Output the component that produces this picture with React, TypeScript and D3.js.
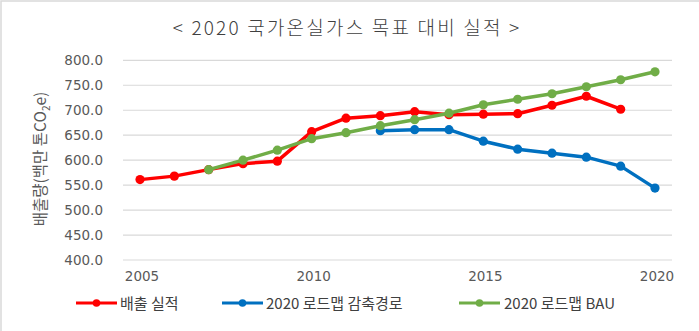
import React from "react";
import * as d3 from "d3";

const years = [2005, 2006, 2007, 2008, 2009, 2010, 2011, 2012, 2013, 2014, 2015, 2016, 2017, 2018, 2019, 2020];
const actual: (number | null)[] = [561, 568, 581, 593, 598, 657, 684, 689, 697, 691, 692, 693, 710, 728, 702, null];
const reduction: (number | null)[] = [null, null, null, null, null, null, null, 659, 661, 661, 638, 622, 614, 606, 588, 544];
const bau: (number | null)[] = [null, null, 581, 600, 620, 643, 655, 669, 681, 694, 711, 722, 733, 747, 761, 777];
const yTicks = [400, 450, 500, 550, 600, 650, 700, 750, 800];
const xTicks = [2005, 2010, 2015, 2020];
const seriesNames = ["배출 실적", "2020 로드맵 감축경로", "2020 로드맵 BAU"];
const seriesColors = ["#ff0000", "#0070c0", "#70ad47"];
const title = "< 2020 국가온실가스 목표 대비 실적 >";
const yTitle = "배출량(백만 톤CO";

export default function App() {
  const W = 699, H = 331;
  const x = d3.scaleLinear().domain([2005, 2020]).range([140, 655]);
  const y = d3.scaleLinear().domain([400, 800]).range([260, 60.3]);
  const series = [actual, reduction, bau];
  const line = d3
    .line<number | null>()
    .defined((d) => d != null)
    .x((_, i) => x(years[i]))
    .y((d) => y(d as number));
  const kr = "'Noto Sans CJK KR', 'Noto Sans', sans-serif";
  const num = "'DejaVu Sans', sans-serif";
  const legendItems = [
    { lx: 76, tx: 120 },
    { lx: 222, tx: 266 },
    { lx: 459, tx: 504 },
  ];
  return (
    <svg width={W} height={H} style={{ position: "absolute", left: 0, top: 0, background: "#fff" }}>
      <rect x={1} y={1} width={W + 10} height={H + 10} fill="#fff" stroke="#d9d9d9" strokeWidth={1.5} />
      <text x={347} y={35} textAnchor="middle" fontFamily={kr} fontSize={19} fontWeight={300} fill="#404040" letterSpacing={2.2}>
        {title}
      </text>
      {yTicks.map((t) => (
        <g key={t}>
          <line x1={123} x2={672} y1={y(t)} y2={y(t)} stroke="#d9d9d9" strokeWidth={1.2} />
          <text x={103} y={y(t) + 5} textAnchor="end" fontFamily={num} fontSize={13.5} fill="#595959">
            {d3.format(".1f")(t)}
          </text>
        </g>
      ))}
      {xTicks.map((t) => (
        <text key={t} x={x(t) + 2} y={281} textAnchor="middle" fontFamily={num} fontSize={13.5} fill="#595959">
          {t}
        </text>
      ))}
      <text
        transform="translate(46,159) rotate(-90)"
        textAnchor="middle"
        fontFamily={kr}
        fontSize={15.5}
        fill="#595959"
      >
        {yTitle}
        <tspan fontSize={10} dy={4}>2</tspan>
        <tspan dy={-4}>e)</tspan>
      </text>
      {series.map((s, si) => (
        <g key={si}>
          <path d={line(s) || ""} fill="none" stroke={seriesColors[si]} strokeWidth={3.5} strokeLinejoin="round" />
          {s.map((d, i) =>
            d == null ? null : <circle key={i} cx={x(years[i])} cy={y(d)} r={4.6} fill={seriesColors[si]} />
          )}
        </g>
      ))}
      {legendItems.map((it, i) => (
        <g key={i}>
          <line x1={it.lx} x2={it.lx + 41} y1={303} y2={303} stroke={seriesColors[i]} strokeWidth={3.2} />
          <circle cx={it.lx + 20.5} cy={303} r={3.8} fill={seriesColors[i]} />
          <text x={it.tx} y={308.5} fontFamily={kr} fontSize={15} fill="#404040">
            {seriesNames[i]}
          </text>
        </g>
      ))}
    </svg>
  );
}
